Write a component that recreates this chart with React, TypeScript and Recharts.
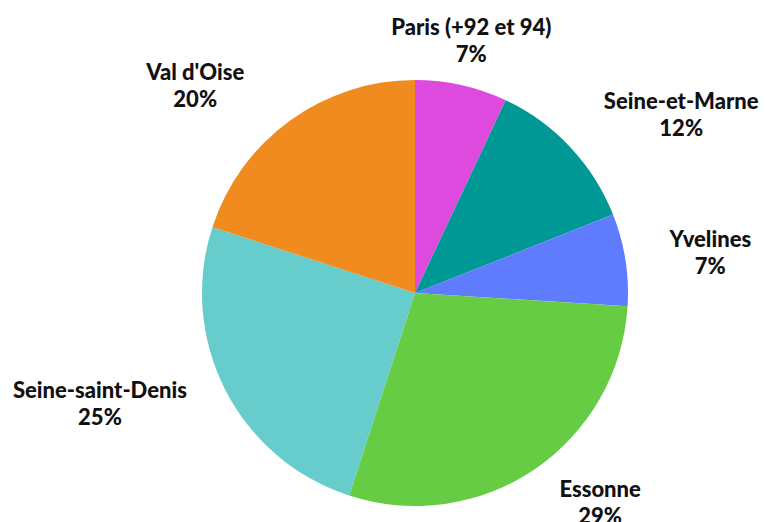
import React from "react";
import { PieChart, Pie, Cell } from "recharts";

const departements = [
  "Paris (+92 et 94)",
  "Seine-et-Marne",
  "Yvelines",
  "Essonne",
  "Seine-saint-Denis",
  "Val d'Oise",
];
const parts = [7, 12, 7, 29, 25, 20];
const colors = ["#DE4ADE", "#009895", "#5F7CFF", "#66CC44", "#66CCCC", "#F08C1F"];

const data = departements.map((name, i) => ({ name, value: parts[i] }));

// label placement tweaks per slice: distance from centre and angle shift (deg)
const labelRadius = [258, 320, 298, 280, 334, 302];
const labelShift = [0, -9.5, -1.3, 7.2, -7.6, 10.7];

const RADIAN = Math.PI / 180;

const renderLabel = (props: any) => {
  const { cx, cy, midAngle, index, name, value } = props;
  const angle = (midAngle + labelShift[index]) * RADIAN;
  const r = labelRadius[index];
  const x = cx + r * Math.cos(angle);
  const y = cy - r * Math.sin(angle);
  return (
    <text
      x={x}
      y={y}
      textAnchor="middle"
      fill="#111111"
      fontFamily="Lato, sans-serif"
      fontWeight={900}
      fontSize={22}
    >
      <tspan x={x} dy={-6}>
        {name}
      </tspan>
      <tspan x={x} dy={27}>
        {value}%
      </tspan>
    </text>
  );
};

export default function App() {
  return (
    <div style={{ position: "absolute", left: 0, top: 0, width: 765, height: 522, background: "#fff" }}>
      <PieChart width={765} height={522} margin={{ top: 0, right: 0, bottom: 0, left: 0 }}>
        <Pie
          data={data}
          dataKey="value"
          nameKey="name"
          cx={415}
          cy={293}
          outerRadius={213}
          startAngle={90}
          endAngle={-270}
          stroke="none"
          label={renderLabel}
          labelLine={false}
          isAnimationActive={false}
        >
          {data.map((d, i) => (
            <Cell key={d.name} fill={colors[i]} />
          ))}
        </Pie>
      </PieChart>
    </div>
  );
}
